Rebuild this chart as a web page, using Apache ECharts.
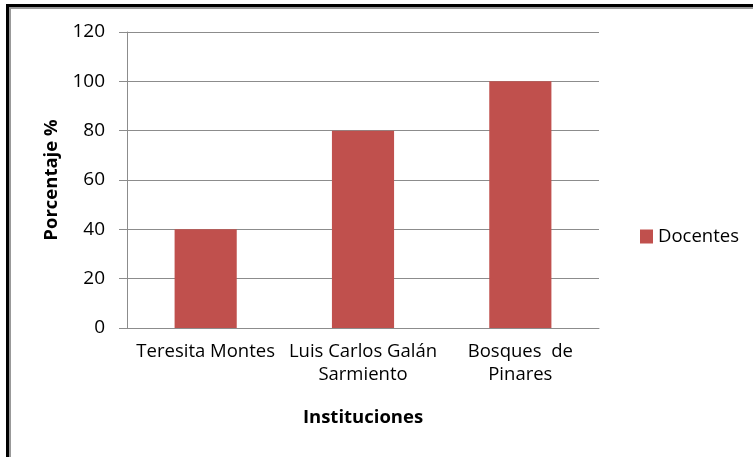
<!DOCTYPE html>
<html>
<head>
<meta charset="utf-8">
<script src="https://cdn.jsdelivr.net/npm/echarts@6/dist/echarts.min.js"></script>
<style>
  html, body { margin: 0; padding: 0; background: #fff; }
  #frame {
    position: absolute; left: 6px; top: 4px; width: 760px; height: 470px;
    border-left: 3px solid #000; border-top: 3px solid #000;
    box-shadow: inset 2px 2px 0 #999;
  }
  #chart { position: absolute; left: 0; top: 0; width: 753px; height: 457px; }
</style>
</head>
<body>
<div id="frame"></div>
<div id="chart"></div>
<script>
  var categories = ['Teresita Montes', 'Luis Carlos Galán\nSarmiento', 'Bosques  de\nPinares'];
  var docentes = [40, 80, 100];
  var yTicks = [0, 20, 40, 60, 80, 100, 120];

  var font = '"Open Sans", "Noto Sans", sans-serif';
  var myChart = echarts.init(document.getElementById('chart'));
  myChart.setOption({
    animation: false,
    color: ['#C0504D'],
    legend: {
      data: ['Docentes'],
      orient: 'vertical',
      left: 635,
      top: 222,
      itemWidth: 13,
      itemHeight: 14,
      itemGap: 4,
      icon: 'rect',
      textStyle: { fontFamily: font, fontSize: 18.5, color: '#000' }
    },
    grid: { left: 127, right: 154, top: 32, bottom: 129 },
    xAxis: {
      type: 'category',
      data: categories,
      name: 'Instituciones',
      nameLocation: 'middle',
      nameGap: 80,
      nameTextStyle: { fontFamily: font, fontSize: 18.5, fontWeight: 'bold', color: '#000' },
      axisLine: { lineStyle: { color: '#8c8c8c', width: 1 } },
      axisTick: { show: false },
      axisLabel: { fontFamily: font, fontSize: 18.5, color: '#000', margin: 12, lineHeight: 23, interval: 0 }
    },
    yAxis: {
      type: 'value',
      min: yTicks[0],
      max: yTicks[yTicks.length - 1],
      interval: 20,
      name: 'Porcentaje %',
      nameLocation: 'middle',
      nameGap: 64,
      nameTextStyle: { fontFamily: font, fontSize: 18.5, fontWeight: 'bold', color: '#000' },
      axisLine: { show: true, lineStyle: { color: '#8c8c8c', width: 1 } },
      axisTick: { show: true, inside: false, length: 8, lineStyle: { color: '#8c8c8c' } },
      axisLabel: { fontFamily: font, fontSize: 19, color: '#000', margin: 22 },
      splitLine: { lineStyle: { color: '#8c8c8c', width: 1 } }
    },
    series: [
      {
        name: 'Docentes',
        type: 'bar',
        data: docentes,
        barWidth: '39.5%'
      }
    ]
  });
</script>
</body>
</html>
